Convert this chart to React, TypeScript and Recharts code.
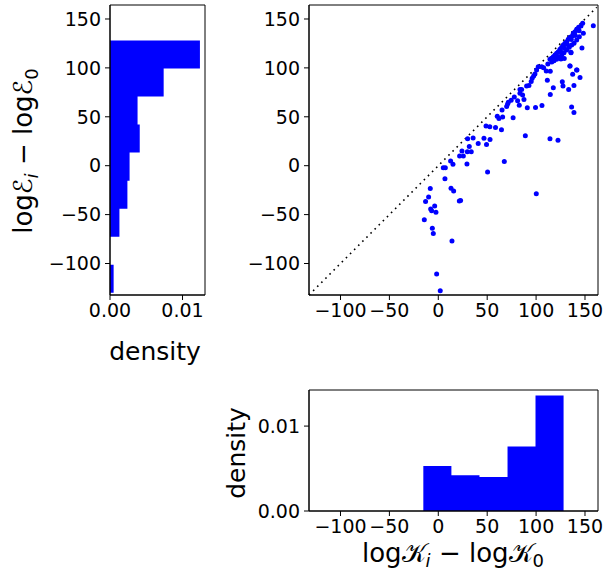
import { ScatterChart, Scatter, XAxis, YAxis, ReferenceLine, ReferenceArea, AreaChart, Area } from 'recharts';

// shared histogram bin edges (both axes use the same bins)
const binEdges = [-130, -101.3, -72.7, -44, -15.3, 13.4, 42.1, 70.8, 99.4, 128.1];
// density per bin, last entry closes the step
const eDensity = [0.0005, 0, 0.0013, 0.0024, 0.0027, 0.0041, 0.0038, 0.0074, 0.0124, 0];
const kDensity = [0, 0, 0, 0, 0.0053, 0.0042, 0.004, 0.0076, 0.0136, 0];

const logTicks = [-100, -50, 0, 50, 100, 150];
const densityTicks = [0, 0.01];

// [log K_i - log K_0, log E_i - log E_0]
const points: [number, number][] = [
  [2, -127.8], [-1.7, -110.8], [14, -77], [-5.1, -69.2], [-6.1, -64], [-14.3, -55.2],
  [-2.4, -47.7], [-6.8, -46], [-7.8, -44.3], [-3.7, -41.2], [-13, -36.5], [-9.9, -32],
  [-8.2, -23.2], [21.5, -36], [22.8, -35.6], [13, -23], [15.7, -25.9], [6.8, -13.3],
  [5.1, -2], [7.2, -2], [15, 1.4], [12.6, 4.8], [29.3, 1.7], [21.8, 9.9], [25.6, 9.9],
  [24.2, 15], [29.7, 14.3], [33.7, 14.3], [31.7, 19.6], [50.4, -6.5], [67.5, 4.4], [100.2, -28.6],
  [40.8, 22.7], [49.3, 21.6], [30, 27.5], [35.6, 28.3], [46.7, 28], [52.9, 26.8],
  [48.8, 40.7], [52.7, 39.7], [58.5, 39.1], [64.6, 36.8], [60.3, 50.5], [62, 48.3],
  [65.8, 49.8], [76.5, 49.1], [65.2, 56.9], [69.9, 60.4], [70.8, 62.7], [71.6, 64.8],
  [74.5, 67], [77.7, 70.2], [81.1, 66.5], [82.8, 61.7], [86.2, 72.3], [87.6, 67.8],
  [83.5, 74], [83.5, 78], [85.2, 78], [90.3, 81.5], [92.7, 82.1], [95, 86.2], [96, 89.3],
  [97.5, 91.7], [98.8, 93.7], [100.5, 97.8], [102.2, 101.2], [105.7, 101.2], [107.7, 100.2],
  [110.4, 96.8], [114.5, 96.5], [91, 59.3], [99.4, 59.6], [106, 61.5], [89, 30.7],
  [114.2, 27.6], [122.4, 25.9], [111.5, 87.3], [114.5, 72.9], [117.6, 79.8], [126.8, 85.9],
  [127.5, 81.5], [133.3, 78], [138.7, 82.1], [136.3, 60], [138.7, 54.5], [144.9, 90.3],
  [141.4, 97.8], [134.6, 101.9], [137.4, 93.4], [135.6, 115.9], [146.9, 120.3], [158.5, 143.1],
  [147.6, 145.6], [145.9, 142.8], [143.5, 141.5], [141.5, 139.4], [139.8, 137], [138, 135.4],
  [137, 132.6], [134.7, 131.3], [132.9, 129.2], [131.3, 126.8], [129.5, 125.1], [127.8, 123.4],
  [126.2, 121.1], [124.4, 119], [122.7, 116.6], [121, 115], [119.3, 113.2], [117.6, 111.5],
  [115.9, 109.8], [114.2, 108.8], [148.3, 135.4], [144.2, 131.9], [141.5, 128.5], [138.8, 125.1],
  [136.4, 123.4], [133.9, 121.1], [131.3, 118.3], [128.5, 115.5], [126.2, 113.2], [123.7, 111.5],
  [121, 108.8], [118.3, 107.4], [125.4, 109.1], [128.8, 109.7], [135.7, 115.5], [134.7, 102],
  [141.8, 97.9], [144, 138], [140, 133], [136, 129], [132, 124], [129, 120], [125, 117],
  [120, 112], [116, 106], [112, 104],
];

const W = 607;
const H = 573;
const KLIM: [number, number] = [-132.2, 163.3];
const ELIM: [number, number] = [-132.2, 164.3];
const font = 'DejaVu Sans';
const tickStyle = { fill: '#000', fontSize: 19, fontFamily: font };
const fmtLog = (v: number) => (v < 0 ? `\u2212${-v}` : `${v}`);
const fmtDen = (v: number) => v.toFixed(2);
const abs = { position: 'absolute' as const, left: 0, top: 0 };

const scatterData = points.map(([k, e]) => ({ k, e }));
const eHist = binEdges.map((edge, i) => ({ edge, density: eDensity[i] }));
const kHist = binEdges.map((edge, i) => ({ edge, density: kDensity[i] }));

const Dot = (p: any) => <circle cx={p.cx} cy={p.cy} r={2.5} fill="#0000ff" />;

export default function App() {
  return (
    <div style={{ ...abs, width: W, height: H, background: '#fff' }}>
      {/* main scatter */}
      <div style={abs}>
        <ScatterChart width={W} height={H} margin={{ top: 5, right: 9, left: 259, bottom: 248 }}>
          <XAxis type="number" dataKey="k" domain={KLIM} ticks={logTicks} allowDataOverflow height={30}
            tickSize={5} tickMargin={4} tick={tickStyle} tickFormatter={fmtLog} stroke="#000" />
          <YAxis type="number" dataKey="e" domain={ELIM} ticks={logTicks} allowDataOverflow width={50}
            tickSize={5} tickMargin={4} tick={tickStyle} tickFormatter={fmtLog} stroke="#000" />
          <ReferenceArea x1={KLIM[0]} x2={KLIM[1]} y1={ELIM[0]} y2={ELIM[1]} fill="none" stroke="#000" fillOpacity={0} />
          <ReferenceLine segment={[{ x: KLIM[0], y: KLIM[0] }, { x: 162, y: 162 }]} stroke="#000"
            strokeWidth={1.6} strokeDasharray="1.6 4.2" />
          <Scatter data={scatterData} shape={Dot} isAnimationActive={false} />
        </ScatterChart>
      </div>

      {/* left histogram of E */}
      <div style={abs}>
        <AreaChart layout="vertical" data={eHist} width={W} height={H}
          margin={{ top: 5, right: W - 205, left: 50, bottom: 248 }}>
          <XAxis type="number" domain={[0, 0.0131]} ticks={densityTicks} allowDataOverflow height={30}
            tickSize={5} tickMargin={4} tick={tickStyle} tickFormatter={fmtDen} stroke="#000" />
          <YAxis type="number" dataKey="edge" domain={ELIM} ticks={logTicks} allowDataOverflow width={60} reversed
            tickSize={5} tickMargin={4} tick={tickStyle} tickFormatter={fmtLog} stroke="#000" />
          <Area dataKey="density" type="stepBefore" stroke="none" fill="#0000ff" fillOpacity={1}
            isAnimationActive={false} />
          <ReferenceArea x1={0} x2={0.0131} y1={ELIM[0]} y2={ELIM[1]} fill="none" stroke="#000" fillOpacity={0} />
        </AreaChart>
      </div>

      {/* bottom histogram of K */}
      <div style={abs}>
        <AreaChart data={kHist} width={W} height={H} margin={{ top: 390, right: 9, left: 249, bottom: 32 }}>
          <XAxis type="number" dataKey="edge" domain={KLIM} ticks={logTicks} allowDataOverflow height={30}
            tickSize={5} tickMargin={4} tick={tickStyle} tickFormatter={fmtLog} stroke="#000" />
          <YAxis type="number" domain={[0, 0.01425]} ticks={densityTicks} allowDataOverflow width={60}
            tickSize={5} tickMargin={4} tick={tickStyle} tickFormatter={fmtDen} stroke="#000" />
          <Area dataKey="density" type="stepAfter" stroke="none" fill="#0000ff" fillOpacity={1}
            isAnimationActive={false} />
          <ReferenceArea x1={KLIM[0]} x2={KLIM[1]} y1={0} y2={0.01425} fill="none" stroke="#000" fillOpacity={0} />
        </AreaChart>
      </div>

      {/* axis titles */}
      <svg width={W} height={H} style={abs} fontFamily={font} fill="#000">
        <text transform="translate(32,151) rotate(-90)" textAnchor="middle" fontSize={26}>
          log{'\u2130'}<tspan fontSize={18} fontStyle="italic" dy={6}>i</tspan>
          <tspan dy={-6}>{' \u2212 log\u2130'}</tspan>
          <tspan fontSize={18} dy={6}>0</tspan>
        </text>
        <text x={155} y={360} textAnchor="middle" fontSize={25}>density</text>
        <text transform="translate(245,453) rotate(-90)" textAnchor="middle" fontSize={25}>density</text>
        <text x={453} y={562} textAnchor="middle" fontSize={26}>
          log{'\u{1D4A6}'}<tspan fontSize={18} fontStyle="italic" dy={5}>i</tspan>
          <tspan dy={-5}>{' \u2212 log\u{1D4A6}'}</tspan>
          <tspan fontSize={18} dy={5}>0</tspan>
        </text>
      </svg>
    </div>
  );
}
